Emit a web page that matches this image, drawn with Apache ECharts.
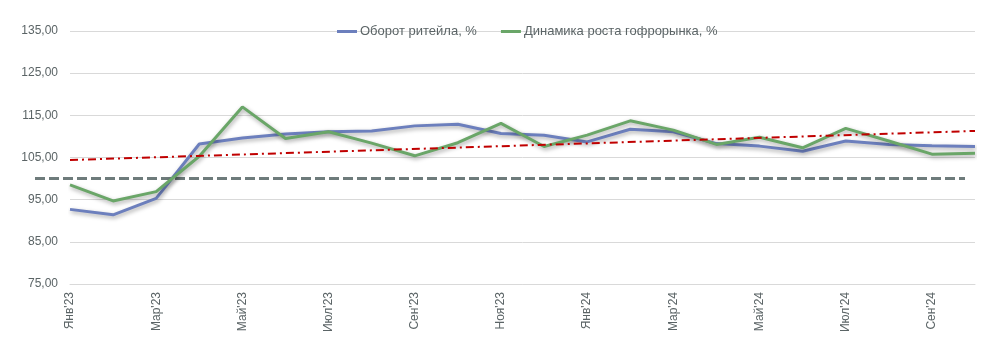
<!DOCTYPE html>
<html><head><meta charset="utf-8">
<script src="https://cdn.jsdelivr.net/npm/echarts@6/dist/echarts.min.js"></script>
<style>html,body{margin:0;padding:0;background:#fff}#c{width:989px;height:364px}</style>
</head><body><div id="c"></div>
<script>
const categories = ["Янв'23","Фев'23","Мар'23","Апр'23","Май'23","Июн'23","Июл'23","Авг'23","Сен'23","Окт'23","Ноя'23","Дек'23",
  "Янв'24","Фев'24","Мар'24","Апр'24","Май'24","Июн'24","Июл'24","Авг'24","Сен'24","Окт'24"];
const retail = [92.7,91.4,95.3,108.2,109.6,110.6,111.1,111.3,112.5,112.9,110.7,110.3,108.7,111.7,111.1,108.3,107.7,106.5,108.9,108.1,107.8,107.6];
const corrugated = [98.5,94.7,96.9,105.3,117.0,109.5,111.1,108.4,105.4,108.5,113.1,107.6,110.3,113.7,111.5,108.1,109.8,107.3,111.9,108.9,105.8,106.0];
const trendEnds = [104.4, 111.3];
const baseline = 100;
const seriesNames = ["Оборот ритейла, %", "Динамика роста гофрорынка, %"];

const txt = '#5B6466';
const font = 'Liberation Sans';
const chart = echarts.init(document.getElementById('c'), null, {renderer:'canvas'});
const shadow = {shadowColor:'rgba(0,0,0,0.35)', shadowBlur:4, shadowOffsetX:1, shadowOffsetY:2};
chart.setOption({
  animation:false,
  textStyle:{fontFamily:font},
  legend:{
    top:20, left:332, data:seriesNames, icon:'rect', itemWidth:20, itemHeight:3, itemGap:24,
    textStyle:{color:txt, fontSize:13, fontFamily:font, padding:[0,0,0,-2]}
  },
  grid:[
    {left:70, right:14, top:31, bottom:80},
    {left:35, right:24, top:31, bottom:80}
  ],
  xAxis:[
    {type:'category', data:categories, boundaryGap:false, gridIndex:0,
     axisLine:{lineStyle:{color:'#D9D9D9'}}, axisTick:{show:false},
     axisLabel:{interval:1, rotate:90, color:txt, fontSize:12, margin:8, fontFamily:font}},
    {type:'value', gridIndex:1, min:0, max:1, show:false}
  ],
  yAxis:[
    {type:'value', gridIndex:0, min:75, max:135, interval:5,
     axisLine:{show:false}, axisTick:{show:false},
     axisLabel:{color:txt, fontSize:12, margin:12, fontFamily:font,
       formatter:v => ((v-75)%10===0 ? v.toFixed(2).replace('.', ',') : '')},
     splitLine:{lineStyle:{color:['#D9D9D9','rgba(0,0,0,0)'], width:1}}},
    {type:'value', gridIndex:1, min:75, max:135, show:false}
  ],
  series:[
    {name:'baseline', type:'line', xAxisIndex:1, yAxisIndex:1, symbol:'none', silent:true,
     data:[[0,baseline],[1,baseline]], lineStyle:{color:'#6E7B7B', width:3, type:[10,4]}, z:1},
    {name:seriesNames[0], type:'line', data:retail, symbol:'none', color:'#6C7FBD',
     lineStyle:Object.assign({width:3, color:'#6C7FBD'}, shadow), z:3},
    {name:seriesNames[1], type:'line', data:corrugated, symbol:'none', color:'#6AA668',
     lineStyle:Object.assign({width:3, color:'#6AA668'}, shadow), z:4},
    {name:'trend', type:'line', data:[], symbol:'none', z:5,
     markLine:{silent:true, symbol:['none','none'], label:{show:false},
       lineStyle:{color:'#C00000', width:2, type:[8,4,2,4]},
       data:[[{xAxis:0, yAxis:trendEnds[0]},{xAxis:categories.length-1, yAxis:trendEnds[1]}]]}}
  ]
});
</script></body></html>
